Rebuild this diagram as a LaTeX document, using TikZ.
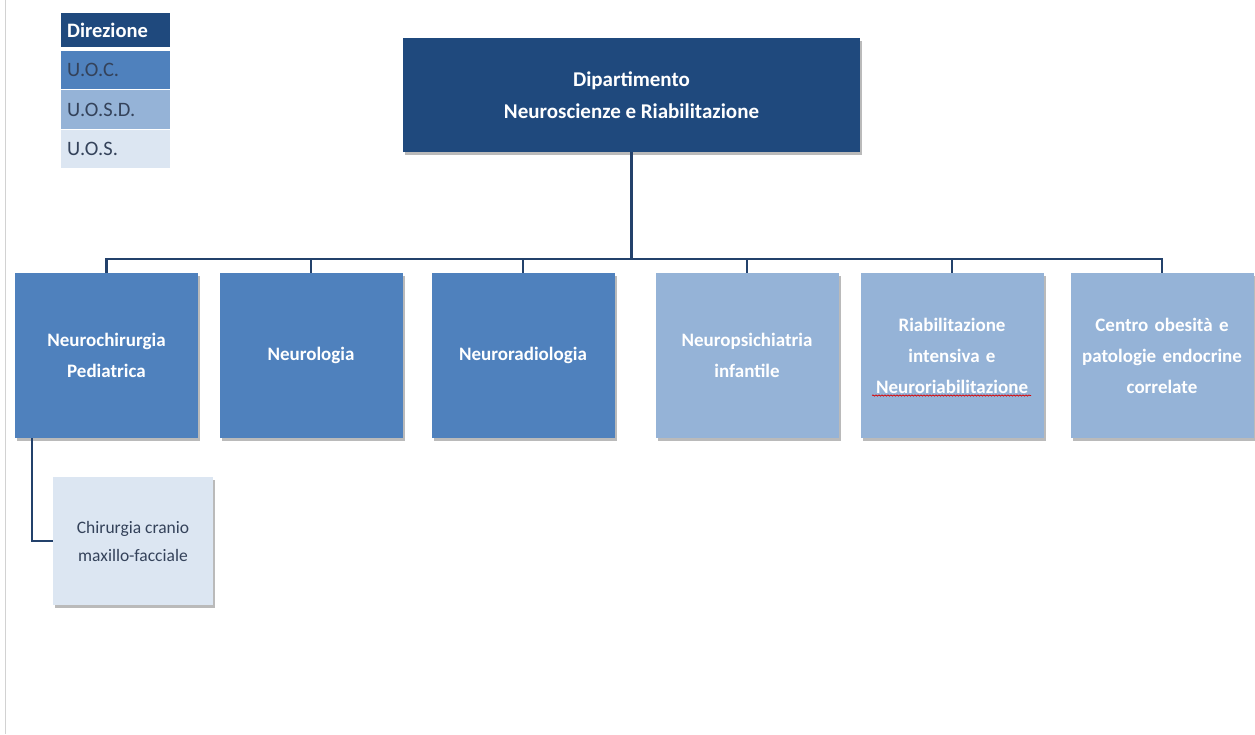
\documentclass[tikz,border=0pt]{standalone}
\usepackage{fontspec}
\setmainfont{Carlito}
\usetikzlibrary{shadows,calc,decorations.pathmorphing}
\definecolor{navy}{HTML}{1F497D}
\definecolor{uoc}{HTML}{4F81BD}
\definecolor{uosd}{HTML}{95B3D7}
\definecolor{uos}{HTML}{DCE6F2}
\definecolor{wire}{HTML}{23416B}
\definecolor{ink}{HTML}{34425A}
\begin{document}
\begin{tikzpicture}[x=1pt,y=-1pt,
  shade/.style={drop shadow={shadow xshift=2pt,shadow yshift=-2.5pt,fill=black!60,opacity=.45}},
  box/.style={shade,minimum width=183pt,minimum height=165pt,inner sep=0pt,
    text width=178pt,align=center,text=white,font=\fontsize{19}{31}\selectfont\bfseries},
  uocbox/.style={box,fill=uoc},
  uosdbox/.style={box,fill=uosd},
  key/.style={minimum width=109pt,inner sep=0pt,anchor=north west,text width=97pt,
    align=left,text=ink,font=\fontsize{20.5}{22}\selectfont},
  link/.style={draw=wire,line width=2.6pt}]
\useasboundingbox[fill=white] (0,0) rectangle (1255,734);
\draw[gray!35,line width=1pt] (5,0) -- (5,734);
% legenda
\node[key,fill=navy,minimum height=34pt,text=white,font=\fontsize{20.5}{22}\selectfont\bfseries] (kdir) at (61,13) {Direzione};
\node[key,fill=uoc,minimum height=38pt] (kuoc) at (61,51) {U.O.C.};
\node[key,fill=uosd,minimum height=39pt] (kuosd) at (61,90) {U.O.S.D.};
\node[key,fill=uos,minimum height=38pt] (kuos) at (61,130) {U.O.S.};
% dipartimento
\node[shade,fill=navy,minimum width=457pt,minimum height=114pt,inner sep=0pt,align=center,
  text=white,font=\fontsize{21}{32}\selectfont\bfseries] (dip) at (631.5,95)
  {Dipartimento\\Neuroscienze e Riabilitazione};
% unita
\node[uocbox] (nch) at (106.5,355.5) {Neurochirurgia\\Pediatrica};
\node[uocbox] (nlg) at (311,355.5) {Neurologia};
\node[uocbox] (nrd) at (523,355.5) {Neuroradiologia};
\node[uosdbox] (npi) at (747,355.5) {Neuropsichiatria\\infantile};
\node[uosdbox] (rib) at (952,355.5) {Riabilitazione\\intensiva e\\Neuroriabilitazione};
\node[uosdbox] (cob) at (1162,355.5) {Centro obesit\`a e\\patologie endocrine\\correlate};
\node[shade,fill=uos,minimum width=160pt,minimum height=128pt,inner sep=0pt,align=center,
  text=ink,font=\fontsize{17.5}{28}\selectfont] (ccm) at (133,541)
  {Chirurgia cranio\\maxillo-facciale};
% collegamenti
\coordinate (bus) at (632,259);
\draw[link] (dip.south) -- (dip.south |- bus);
\draw[link,line cap=rect] (nch.north |- bus) -- (cob.north |- bus);
\foreach \n in {nch,nlg,nrd,npi,rib,cob}
  \draw[link] (\n.north |- bus) -- (\n.north);
\draw[link] ([xshift=17pt]nch.south west) |- (ccm.west);
\draw[red!85!black,line width=.7pt,decorate,decoration={snake,amplitude=.6pt,segment length=3pt}]
  ($(rib.center)+(-80,40)$) -- ($(rib.center)+(79,40)$);
\end{tikzpicture}
\end{document}
